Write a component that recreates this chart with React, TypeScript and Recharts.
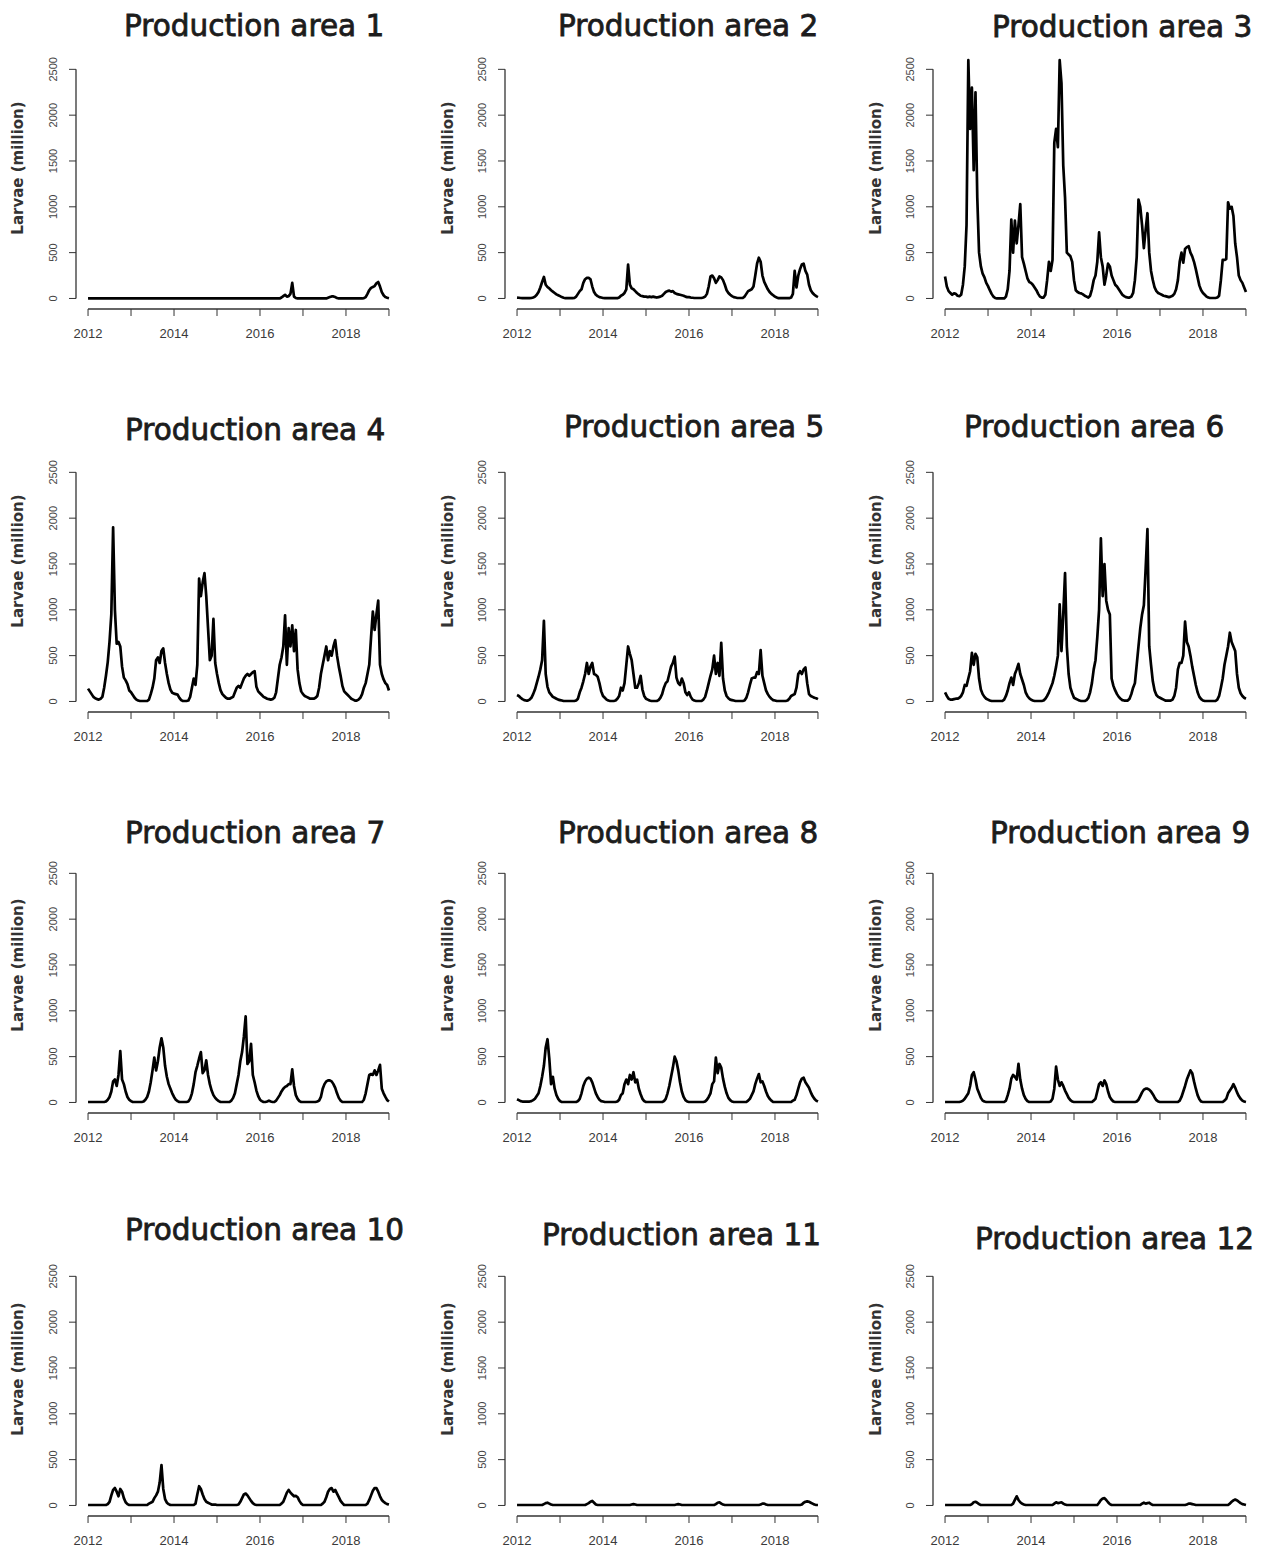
import { Line, LineChart, ReferenceLine, XAxis, YAxis } from 'recharts';

// semi-monthly sampling from Jan 2012 to Jan 2019
const STEPS_PER_YEAR = 24;
const DATES = Array.from({ length: 7 * STEPS_PER_YEAR + 1 }, (_, i) => 2012 + i / STEPS_PER_YEAR);

const YEAR_TICKS = [2012, 2013, 2014, 2015, 2016, 2017, 2018, 2019];
const LARVAE_TICKS = [0, 500, 1000, 1500, 2000, 2500];
const Y_LABEL = 'Larvae (million)';

// larvae (million), one row per year (24 half-month values), last value = Jan 2019
const AREA_1 = [
  0, 0, 0, 0, 0, 0, 0, 0, 0, 0, 0, 0, 0, 0, 0, 0, 0, 0, 0, 0, 0, 0, 0, 0,
  0, 0, 0, 0, 0, 0, 0, 0, 0, 0, 0, 0, 0, 0, 0, 0, 0, 0, 0, 0, 0, 0, 0, 0,
  0, 0, 0, 0, 0, 0, 0, 0, 0, 0, 0, 0, 0, 0, 0, 0, 0, 0, 0, 0, 0, 0, 0, 0,
  0, 0, 0, 0, 0, 0, 0, 0, 0, 0, 0, 0, 0, 0, 0, 0, 0, 0, 0, 0, 0, 0, 0, 0,
  0, 0, 0, 0, 0, 0, 0, 0, 0, 0, 0, 0, 10, 25, 40, 20, 25, 50, 170, 20, 5, 0, 0, 0,
  0, 0, 0, 0, 0, 0, 0, 0, 0, 0, 0, 0, 0, 0, 8, 15, 22, 22, 15, 5, 0, 0, 0, 0,
  0, 0, 0, 0, 0, 0, 0, 0, 0, 0, 3, 15, 50, 90, 115, 125, 135, 165, 180, 130, 70, 35, 15, 8,
  3,
];

const AREA_2 = [
  10, 8, 5, 3, 3, 3, 3, 3, 5, 10, 20, 40, 70, 120, 180, 235, 150, 125, 110, 90, 75, 60, 45, 35,
  25, 15, 8, 3, 3, 3, 3, 3, 5, 20, 50, 80, 100, 170, 210, 225, 225, 210, 130, 70, 40, 25, 15, 10,
  5, 3, 3, 3, 3, 3, 3, 3, 3, 10, 30, 40, 60, 100, 370, 150, 110, 100, 80, 60, 45, 30, 25, 20,
  20, 15, 20, 15, 20, 15, 10, 15, 20, 30, 50, 70, 80, 85, 75, 80, 60, 50, 45, 40, 35, 30, 20, 15,
  15, 10, 8, 5, 5, 5, 5, 5, 10, 20, 50, 130, 240, 250, 220, 170, 200, 240, 230, 200, 150, 90, 60, 40,
  25, 15, 10, 5, 5, 5, 5, 20, 50, 80, 90, 100, 130, 250, 380, 445, 400, 250, 180, 140, 100, 70, 50, 35,
  20, 10, 3, 3, 3, 3, 3, 3, 3, 10, 50, 300, 120, 250, 320, 370, 380, 300, 260, 150, 90, 60, 40, 25,
  15,
];

const AREA_3 = [
  240, 130, 80, 60, 40, 55, 50, 30, 25, 40, 150, 350, 800, 2600, 1850, 2300, 1400, 2250, 1100, 500, 350, 270, 230, 170,
  135, 90, 50, 20, 5, 0, 0, 0, 0, 0, 20, 100, 300, 860, 500, 850, 600, 800, 1030, 450, 380, 300, 220, 180,
  170, 150, 120, 90, 50, 20, 10, 10, 40, 200, 400, 300, 420, 1700, 1850, 1650, 2600, 2350, 1450, 1100, 500, 480, 460, 400,
  200, 90, 70, 60, 55, 45, 30, 20, 10, 30, 100, 200, 250, 400, 720, 450, 350, 150, 250, 380, 350, 250, 200, 150,
  130, 100, 70, 40, 25, 15, 10, 10, 20, 60, 200, 450, 1080, 1000, 800, 550, 750, 930, 500, 300, 200, 120, 80, 60,
  50, 40, 30, 25, 20, 15, 20, 30, 50, 100, 200, 400, 500, 390, 540, 560, 570, 500, 460, 400, 320, 230, 140, 90,
  60, 40, 20, 10, 5, 5, 5, 5, 10, 30, 200, 420, 420, 430, 1050, 980, 1000, 900, 600, 450, 250, 200, 170, 120,
  70,
];

const AREA_4 = [
  140, 110, 80, 50, 35, 25, 20, 30, 50, 150, 280, 430, 650, 950, 1900, 1000, 630, 650, 600, 380, 260, 230, 190, 120,
  100, 70, 40, 20, 10, 5, 5, 5, 5, 5, 20, 80, 150, 250, 450, 480, 420, 550, 580, 420, 300, 200, 130, 95,
  85, 80, 75, 40, 15, 5, 5, 5, 10, 50, 150, 250, 180, 400, 1340, 1150, 1300, 1400, 1150, 800, 450, 500, 900, 420,
  300, 200, 120, 80, 60, 40, 30, 30, 40, 50, 100, 150, 170, 150, 200, 250, 280, 300, 280, 300, 320, 330, 160, 110,
  90, 70, 50, 40, 30, 25, 20, 25, 40, 100, 250, 400, 480, 600, 940, 400, 800, 600, 830, 550, 780, 350, 200, 110,
  80, 60, 50, 40, 30, 30, 30, 40, 60, 150, 300, 400, 500, 600, 450, 550, 500, 600, 670, 500, 380, 280, 170, 110,
  90, 70, 50, 30, 20, 10, 10, 20, 40, 80, 150, 200, 300, 400, 700, 980, 780, 950, 1100, 400, 300, 240, 200, 180,
  120,
];

const AREA_5 = [
  70, 60, 40, 25, 15, 10, 10, 20, 40, 80, 130, 200, 270, 350, 450, 880, 300, 160, 100, 75, 50, 40, 30, 20,
  15, 10, 5, 5, 5, 5, 5, 5, 5, 10, 30, 100, 150, 220, 300, 420, 300, 380, 420, 300, 290, 270, 200, 110,
  60, 40, 20, 10, 5, 5, 5, 10, 30, 60, 150, 120, 200, 400, 600, 520, 450, 300, 150, 150, 200, 280, 130, 60,
  30, 20, 10, 5, 5, 5, 5, 15, 40, 80, 150, 200, 220, 300, 380, 420, 490, 260, 200, 180, 250, 200, 100, 70,
  100, 50, 20, 10, 5, 5, 5, 5, 20, 50, 120, 200, 280, 350, 500, 300, 420, 280, 640, 250, 120, 60, 35, 20,
  15, 10, 5, 5, 5, 5, 5, 10, 40, 100, 180, 250, 260, 260, 320, 300, 560, 280, 200, 120, 80, 50, 30, 15,
  10, 5, 5, 5, 5, 5, 5, 10, 30, 60, 70, 80, 150, 300, 330, 300, 350, 370, 200, 80, 60, 50, 40, 35,
  25,
];

const AREA_6 = [
  100, 60, 30, 20, 20, 25, 30, 30, 40, 60, 100, 180, 170, 250, 330, 530, 400, 520, 480, 250, 130, 80, 50, 30,
  20, 10, 5, 5, 5, 5, 5, 5, 5, 20, 60, 120, 200, 260, 180, 300, 350, 410, 300, 240, 180, 100, 60, 35,
  20, 10, 5, 5, 5, 5, 5, 10, 30, 60, 100, 150, 200, 280, 380, 500, 1060, 550, 950, 1400, 600, 300, 150, 90,
  40, 30, 20, 10, 5, 5, 5, 15, 40, 100, 200, 350, 450, 700, 1000, 1780, 1150, 1500, 1100, 1000, 950, 250, 170, 120,
  80, 50, 30, 15, 10, 10, 10, 30, 80, 150, 200, 400, 600, 800, 950, 1050, 1450, 1880, 600, 400, 220, 120, 70, 50,
  40, 30, 20, 10, 10, 10, 10, 20, 60, 150, 350, 420, 420, 500, 870, 650, 600, 500, 380, 280, 180, 100, 50, 25,
  10, 5, 5, 5, 5, 5, 5, 5, 20, 60, 150, 250, 400, 500, 600, 750, 650, 600, 550, 300, 150, 90, 60, 40,
  30,
];

const AREA_7 = [
  5, 5, 5, 5, 5, 5, 5, 5, 5, 5, 10, 30, 60, 120, 230, 250, 180, 300, 560, 250, 200, 120, 60, 30,
  15, 5, 5, 5, 5, 5, 5, 10, 30, 60, 120, 220, 350, 490, 350, 450, 600, 700, 600, 400, 280, 200, 150, 100,
  60, 30, 15, 5, 5, 5, 5, 5, 10, 40, 100, 200, 330, 400, 480, 550, 320, 350, 460, 300, 200, 130, 80, 50,
  30, 15, 5, 5, 5, 5, 5, 5, 20, 50, 100, 200, 300, 450, 550, 720, 940, 420, 450, 640, 300, 220, 130, 70,
  30, 15, 5, 5, 10, 20, 10, 5, 5, 20, 50, 80, 120, 150, 170, 180, 200, 200, 360, 180, 80, 40, 15, 5,
  5, 5, 5, 5, 5, 5, 5, 5, 10, 20, 60, 150, 200, 230, 240, 240, 230, 200, 160, 100, 50, 20, 5, 5,
  5, 5, 5, 5, 5, 5, 5, 5, 5, 5, 30, 100, 200, 300, 310, 300, 350, 300, 350, 410, 150, 100, 60, 25,
  10,
];

const AREA_8 = [
  35, 25, 15, 10, 10, 10, 10, 10, 15, 25, 40, 70, 100, 180, 280, 400, 600, 690, 480, 200, 280, 150, 80, 40,
  15, 5, 5, 5, 5, 5, 5, 5, 5, 5, 15, 40, 100, 180, 230, 260, 270, 260, 220, 160, 100, 60, 30, 15,
  10, 5, 5, 5, 5, 5, 5, 5, 10, 30, 80, 100, 200, 250, 200, 300, 250, 330, 220, 250, 150, 90, 40, 15,
  5, 5, 5, 5, 5, 5, 5, 5, 5, 5, 15, 40, 100, 180, 280, 380, 500, 450, 350, 220, 120, 60, 25, 10,
  5, 5, 5, 5, 5, 5, 5, 5, 5, 10, 30, 60, 100, 200, 230, 490, 320, 420, 380, 260, 170, 100, 50, 25,
  10, 5, 5, 5, 5, 5, 5, 5, 5, 20, 40, 80, 120, 200, 260, 310, 220, 230, 180, 120, 70, 40, 20, 5,
  5, 5, 5, 5, 5, 5, 5, 5, 5, 5, 20, 30, 80, 150, 220, 260, 270, 220, 190, 160, 110, 70, 40, 20,
  10,
];

const AREA_9 = [
  5, 5, 5, 5, 5, 5, 5, 5, 5, 10, 20, 40, 70, 100, 180, 300, 330, 250, 150, 100, 50, 20, 10, 5,
  5, 5, 5, 5, 5, 5, 5, 5, 5, 5, 20, 80, 150, 260, 300, 280, 250, 420, 250, 150, 80, 40, 15, 5,
  5, 5, 5, 5, 5, 5, 5, 5, 5, 5, 5, 10, 40, 150, 390, 250, 180, 220, 180, 130, 90, 50, 25, 10,
  5, 5, 5, 5, 5, 5, 5, 5, 5, 5, 5, 20, 40, 120, 200, 220, 180, 240, 200, 120, 60, 30, 10, 5,
  5, 5, 5, 5, 5, 5, 5, 5, 5, 5, 5, 10, 30, 70, 110, 140, 150, 150, 140, 120, 90, 55, 25, 10,
  5, 5, 5, 5, 5, 5, 5, 5, 5, 5, 5, 20, 60, 120, 180, 250, 300, 350, 320, 230, 150, 80, 35, 10,
  5, 5, 5, 5, 5, 5, 5, 5, 5, 5, 5, 5, 20, 40, 100, 130, 160, 200, 160, 110, 70, 40, 20, 10,
  5,
];

const AREA_10 = [
  5, 5, 5, 5, 5, 5, 5, 5, 5, 5, 5, 15, 40, 110, 170, 190, 150, 100, 180, 150, 80, 35, 15, 5,
  5, 5, 5, 5, 5, 5, 5, 5, 5, 5, 20, 30, 40, 80, 110, 150, 250, 440, 180, 70, 30, 15, 5, 5,
  5, 5, 5, 5, 5, 5, 5, 5, 5, 5, 5, 5, 20, 120, 210, 180, 120, 70, 40, 30, 20, 10, 10, 10,
  5, 5, 5, 5, 5, 5, 5, 5, 5, 5, 5, 5, 10, 40, 80, 120, 130, 110, 80, 50, 25, 10, 5, 5,
  5, 5, 5, 5, 5, 5, 5, 5, 5, 5, 5, 5, 20, 40, 90, 140, 170, 140, 120, 100, 105, 90, 50, 20,
  5, 5, 5, 5, 5, 5, 5, 5, 5, 5, 5, 20, 40, 90, 150, 180, 190, 150, 170, 130, 90, 50, 25, 5,
  5, 5, 5, 5, 5, 5, 5, 5, 5, 5, 5, 5, 20, 60, 110, 160, 190, 190, 150, 100, 60, 40, 25, 15,
  10,
];

const AREA_11 = [
  5, 5, 5, 5, 5, 5, 5, 5, 5, 5, 5, 5, 5, 5, 5, 15, 25, 30, 20, 10, 5, 5, 5, 5,
  5, 5, 5, 5, 5, 5, 5, 5, 5, 5, 5, 5, 5, 5, 5, 15, 25, 40, 50, 30, 10, 5, 5, 5,
  5, 5, 5, 5, 5, 5, 5, 5, 5, 5, 5, 5, 5, 5, 5, 5, 10, 15, 10, 5, 5, 5, 5, 5,
  5, 5, 5, 5, 5, 5, 5, 5, 5, 5, 5, 5, 5, 5, 5, 5, 5, 10, 15, 10, 5, 5, 5, 5,
  5, 5, 5, 5, 5, 5, 5, 5, 5, 5, 5, 5, 5, 5, 5, 15, 30, 35, 20, 10, 5, 5, 5, 5,
  5, 5, 5, 5, 5, 5, 5, 5, 5, 5, 5, 5, 5, 5, 5, 5, 10, 20, 20, 10, 5, 5, 5, 5,
  5, 5, 5, 5, 5, 5, 5, 5, 5, 5, 5, 5, 5, 5, 5, 10, 30, 40, 45, 40, 30, 20, 10, 5,
  5,
];

const AREA_12 = [
  5, 5, 5, 5, 5, 5, 5, 5, 5, 5, 5, 5, 5, 5, 5, 15, 35, 40, 30, 15, 5, 5, 5, 5,
  5, 5, 5, 5, 5, 5, 5, 5, 5, 5, 5, 5, 5, 5, 20, 60, 100, 60, 35, 20, 10, 5, 5, 5,
  5, 5, 5, 5, 5, 5, 5, 5, 5, 5, 5, 5, 5, 20, 35, 25, 30, 35, 20, 10, 5, 5, 5, 5,
  5, 5, 5, 5, 5, 5, 5, 5, 5, 5, 5, 5, 5, 5, 30, 60, 75, 80, 60, 35, 15, 5, 5, 5,
  5, 5, 5, 5, 5, 5, 5, 5, 5, 5, 5, 5, 5, 5, 20, 30, 20, 25, 30, 15, 5, 5, 5, 5,
  5, 5, 5, 5, 5, 5, 5, 5, 5, 5, 5, 5, 5, 5, 5, 10, 20, 20, 15, 10, 5, 5, 5, 5,
  5, 5, 5, 5, 5, 5, 5, 5, 5, 5, 5, 5, 5, 5, 5, 20, 40, 55, 65, 55, 40, 25, 15, 10,
  5,
];

const PANELS = [
  { name: 'Production area 1', values: AREA_1 },
  { name: 'Production area 2', values: AREA_2 },
  { name: 'Production area 3', values: AREA_3 },
  { name: 'Production area 4', values: AREA_4 },
  { name: 'Production area 5', values: AREA_5 },
  { name: 'Production area 6', values: AREA_6 },
  { name: 'Production area 7', values: AREA_7 },
  { name: 'Production area 8', values: AREA_8 },
  { name: 'Production area 9', values: AREA_9 },
  { name: 'Production area 10', values: AREA_10 },
  { name: 'Production area 11', values: AREA_11 },
  { name: 'Production area 12', values: AREA_12 },
];

// layout (page pixels)
const COL_PLOT_LEFT = [76, 505, 933];
const ROW_PLOT_TOP = [51, 454, 855, 1258];
const PLOT_W = 325;
const PLOT_H = 258;
const Y_AXIS_W = 75;
const X_AXIS_H = 40;
const RIGHT_PAD = 5;
const X_DOMAIN: [number, number] = [2011.72, 2019.28];
const Y_DOMAIN: [number, number] = [-115, 2700];

const TITLE_POS = [
  [124, 36], [558, 36], [992, 37],
  [125, 440], [564, 437], [964, 437],
  [125, 843], [558, 843], [990, 843],
  [125, 1240], [542, 1245], [975, 1249],
];
const Y_LABEL_X = [18, 448, 876];
const Y_LABEL_Y = [168, 561, 965, 1369];

const AXIS_COLOR = '#333';
const TICK_FONT = "'Liberation Sans', Arial, sans-serif";

function XTick({ x, y, payload }: any) {
  if (payload.value % 2 !== 0) return <g />;
  return (
    <text x={x} y={y + 19.5} textAnchor="middle" fontSize={13} fontFamily={TICK_FONT} fill="#3a3a3a">
      {payload.value}
    </text>
  );
}

function YTick({ x, y, payload }: any) {
  const cx = x - 14;
  return (
    <text
      x={cx}
      y={y}
      dy="0.35em"
      transform={`rotate(-90 ${cx} ${y})`}
      textAnchor="middle"
      fontSize={11}
      fontFamily={TICK_FONT}
      fill="#444"
    >
      {payload.value}
    </text>
  );
}

function Panel({ values, left, top }: { values: number[]; left: number; top: number }) {
  const data = DATES.map((t, i) => ({ t, v: values[i] }));
  return (
    <div style={{ position: 'absolute', left, top }}>
      <LineChart
        width={Y_AXIS_W + PLOT_W + RIGHT_PAD}
        height={PLOT_H + X_AXIS_H}
        data={data}
        margin={{ top: 0, right: RIGHT_PAD, bottom: 0, left: 0 }}
      >
        <XAxis
          dataKey="t"
          type="number"
          domain={X_DOMAIN}
          allowDataOverflow
          ticks={YEAR_TICKS}
          interval={0}
          height={X_AXIS_H}
          axisLine={false}
          stroke={AXIS_COLOR}
          tickSize={7}
          tickMargin={2}
          tick={<XTick />}
        />
        <YAxis
          type="number"
          domain={Y_DOMAIN}
          allowDataOverflow
          ticks={LARVAE_TICKS}
          interval={0}
          width={Y_AXIS_W}
          axisLine={false}
          stroke={AXIS_COLOR}
          tickSize={7}
          tickMargin={2}
          tick={<YTick />}
        />
        <ReferenceLine
          segment={[{ x: YEAR_TICKS[0], y: Y_DOMAIN[0] }, { x: YEAR_TICKS[YEAR_TICKS.length - 1], y: Y_DOMAIN[0] }]}
          stroke={AXIS_COLOR}
          strokeWidth={1.3}
          ifOverflow="visible"
        />
        <ReferenceLine
          segment={[{ x: X_DOMAIN[0], y: LARVAE_TICKS[0] }, { x: X_DOMAIN[0], y: LARVAE_TICKS[LARVAE_TICKS.length - 1] }]}
          stroke={AXIS_COLOR}
          strokeWidth={1.3}
          ifOverflow="visible"
        />
        <Line
          type="linear"
          dataKey="v"
          stroke="#000"
          strokeWidth={2.7}
          strokeLinejoin="round"
          dot={false}
          activeDot={false}
          isAnimationActive={false}
        />
      </LineChart>
    </div>
  );
}

export default function App() {
  return (
    <div style={{ position: 'absolute', left: 0, top: 0, width: 1267, height: 1549, background: '#fff' }}>
      {PANELS.map((p, i) => {
        const col = i % 3;
        const row = Math.floor(i / 3);
        return (
          <Panel
            key={p.name}
            values={p.values}
            left={COL_PLOT_LEFT[col] - Y_AXIS_W}
            top={ROW_PLOT_TOP[row]}
          />
        );
      })}
      <svg
        width={1267}
        height={1549}
        style={{ position: 'absolute', left: 0, top: 0, pointerEvents: 'none' }}
      >
        {PANELS.map((p, i) => {
          const col = i % 3;
          const row = Math.floor(i / 3);
          const lx = Y_LABEL_X[col];
          const ly = Y_LABEL_Y[row];
          return (
            <g key={p.name}>
              <text
                x={TITLE_POS[i][0]}
                y={TITLE_POS[i][1]}
                fontFamily="'DejaVu Sans', sans-serif"
                fontSize={29.5}
                fill="#1c1c1c"
                stroke="#1c1c1c"
                strokeWidth={0.8}
              >
                {p.name}
              </text>
              <text
                x={lx}
                y={ly}
                dy="0.35em"
                transform={`rotate(-90 ${lx} ${ly})`}
                textAnchor="middle"
                fontFamily="'DejaVu Sans', sans-serif"
                fontWeight="bold"
                fontSize={15}
                fill="#333"
              >
                {Y_LABEL}
              </text>
            </g>
          );
        })}
      </svg>
    </div>
  );
}
